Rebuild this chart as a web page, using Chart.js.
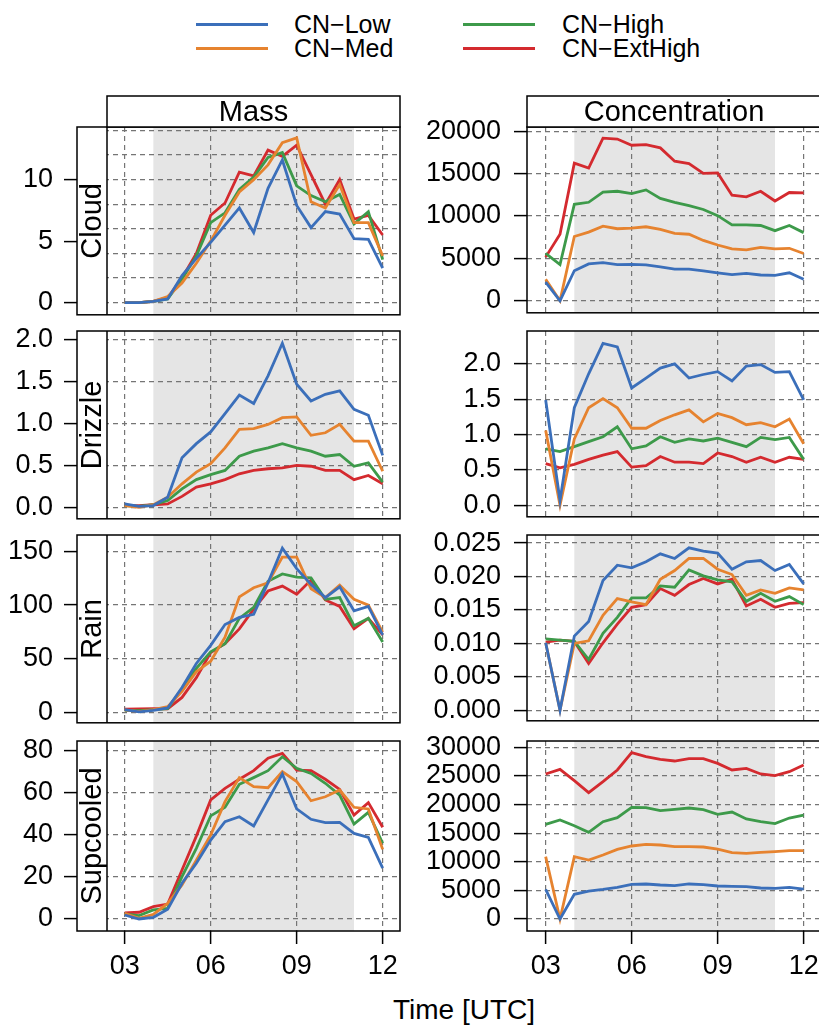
<!DOCTYPE html>
<html>
<head>
<meta charset="utf-8">
<script src="https://cdn.jsdelivr.net/npm/chart.js@4.4.1/dist/chart.umd.min.js"></script>
<style>
  html, body { margin: 0; padding: 0; background: #fff; overflow: hidden; width: 819px; height: 1025px; }
  body { position: relative; font-family: "Liberation Sans", Arial, Helvetica, sans-serif; color: #000; }
  canvas { position: absolute; }
  .leg-line { position: absolute; height: 3px; }
  .leg-text { position: absolute; font-size: 25px; line-height: 30px; white-space: nowrap; }
  #xtitle { position: absolute; left: 364px; width: 200px; top: 993px; text-align: center; font-size: 28px; line-height: 34px; }
</style>
</head>
<body>
<div id="legend"></div>
<div id="xtitle">Time [UTC]</div>
<script>
// time axis, half-hourly output
const hours = [3, 3.5, 4, 4.5, 5, 5.5, 6, 6.5, 7, 7.5, 8, 8.5, 9, 9.5, 10, 10.5, 11, 11.5, 12];
const xTicks = [3, 6, 9, 12];
const shadeFrom = 4, shadeTo = 11;

const seriesNames = ['CN\u2212Low', 'CN\u2212Med', 'CN\u2212High', 'CN\u2212ExtHigh'];
const seriesColors = ['#3B6FBA', '#E6832F', '#3D9A4A', '#D42A2F'];

// Cloud
const cloudMassLow  = [0, 0, 0.1, 0.3, 2.2, 3.6, 4.9, 6.3, 7.7, 5.7, 9.3, 11.6, 7.9, 6.1, 7.4, 7.2, 5.2, 5.15, 2.8];
const cloudMassMed  = [0, 0, 0.1, 0.5, 1.6, 3.2, 5.0, 7.1, 9.0, 10.0, 11.2, 13.0, 13.4, 8.2, 7.7, 9.6, 6.5, 6.5, 3.8];
const cloudMassHigh = [0, 0, 0.1, 0.3, 1.9, 3.8, 6.5, 7.3, 9.2, 10.2, 11.8, 12.2, 9.5, 8.7, 8.2, 8.8, 6.4, 7.4, 3.5];
const cloudMassExt  = [0, 0, 0.1, 0.4, 2.0, 4.0, 7.1, 8.1, 10.6, 10.3, 12.4, 11.9, 12.8, 10.4, 8.0, 10.0, 6.8, 7.1, 5.5];
const cloudConcLow  = [2190, 0, 3540, 4350, 4500, 4270, 4300, 4230, 4000, 3730, 3730, 3540, 3300, 3080, 3230, 3040, 3000, 3300, 2540];
const cloudConcMed  = [2540, 0, 7580, 8100, 8800, 8500, 8580, 8730, 8420, 7960, 7850, 7120, 6580, 6120, 6000, 6300, 6120, 6190, 5580];
const cloudConcHigh = [5580, 4270, 11380, 11620, 12810, 12920, 12650, 13080, 12080, 11620, 11230, 10770, 10040, 8960, 8960, 8880, 8270, 8880, 8040];
const cloudConcExt  = [5150, 7850, 16230, 15650, 19190, 19080, 18350, 18420, 18040, 16460, 16190, 15040, 15080, 12460, 12270, 12920, 11770, 12770, 12730];

// Drizzle
const drizzleMassLow  = [0.04, 0.01, 0.02, 0.12, 0.59, 0.76, 0.90, 1.12, 1.34, 1.24, 1.57, 1.96, 1.47, 1.27, 1.35, 1.39, 1.17, 1.10, 0.62];
const drizzleMassMed  = [0.02, 0.0, 0.03, 0.12, 0.28, 0.42, 0.52, 0.71, 0.93, 0.94, 0.99, 1.07, 1.08, 0.86, 0.89, 0.99, 0.79, 0.79, 0.43];
const drizzleMassHigh = [0.02, 0.01, 0.03, 0.08, 0.22, 0.33, 0.39, 0.44, 0.61, 0.67, 0.71, 0.76, 0.71, 0.67, 0.61, 0.63, 0.49, 0.53, 0.30];
const drizzleMassExt  = [0.02, 0.02, 0.03, 0.04, 0.13, 0.24, 0.28, 0.33, 0.40, 0.44, 0.46, 0.47, 0.50, 0.49, 0.44, 0.44, 0.33, 0.38, 0.28];
const drizzleConcLow  = [1.49, 0.07, 1.38, 1.86, 2.29, 2.24, 1.66, 1.80, 1.94, 2.0, 1.80, 1.85, 1.89, 1.76, 1.97, 1.99, 1.88, 1.89, 1.49];
const drizzleConcMed  = [1.06, 0.0, 0.94, 1.38, 1.51, 1.38, 1.09, 1.09, 1.20, 1.28, 1.35, 1.18, 1.30, 1.24, 1.14, 1.17, 1.11, 1.22, 0.87];
const drizzleConcHigh = [0.80, 0.76, 0.83, 0.90, 0.97, 1.11, 0.80, 0.84, 0.97, 0.89, 0.94, 0.91, 0.95, 0.89, 0.83, 0.96, 0.93, 0.96, 0.65];
const drizzleConcExt  = [0.59, 0.53, 0.58, 0.65, 0.71, 0.76, 0.54, 0.56, 0.69, 0.61, 0.61, 0.59, 0.74, 0.69, 0.61, 0.68, 0.61, 0.68, 0.65];

// Rain
const rainMassLow  = [2.5, 0.3, 1.8, 4, 23, 45.5, 62.4, 81.8, 88.5, 91.3, 120.8, 153.1, 134, 119.3, 107, 117, 94.7, 98.7, 72.2];
const rainMassMed  = [2.2, 0.5, 2.5, 5.2, 19.4, 37.8, 47.6, 70.1, 107.6, 116.2, 120.8, 144.8, 144.8, 115.3, 107, 118.7, 105.4, 99.9, 74.7];
const rainMassHigh = [1.8, 1.5, 2.5, 3.4, 21.8, 40.9, 56.3, 63.9, 87.6, 97.8, 122.3, 129.1, 126, 125.4, 105.4, 107, 80.8, 87.6, 65.5];
const rainMassExt  = [2.8, 3.1, 3.4, 3.1, 13.8, 32.3, 55.6, 63.9, 77.8, 96.2, 113.1, 117.7, 110.1, 123.3, 104.8, 98.7, 77.8, 87.6, 72.2];
const rainConcLow  = [0.0101, 0, 0.0111, 0.0133, 0.0194, 0.0217, 0.0213, 0.0222, 0.0234, 0.0227, 0.0243, 0.0238, 0.0235, 0.0211, 0.0222, 0.0224, 0.0209, 0.0218, 0.0189];
const rainConcMed  = [0.0101, 0, 0.0100, 0.0104, 0.0142, 0.0167, 0.0162, 0.0158, 0.0196, 0.0209, 0.0227, 0.0227, 0.0211, 0.0203, 0.0172, 0.0180, 0.0175, 0.0183, 0.0180];
const rainConcHigh = [0.0107, 0.0105, 0.0103, 0.0076, 0.0115, 0.0139, 0.0168, 0.0168, 0.0186, 0.0184, 0.0210, 0.0201, 0.0195, 0.0192, 0.0163, 0.0175, 0.0163, 0.0170, 0.0158];
const rainConcExt  = [0.0102, 0.0105, 0.0103, 0.0070, 0.0101, 0.0129, 0.0154, 0.0158, 0.0182, 0.0172, 0.0188, 0.0197, 0.0189, 0.0196, 0.0156, 0.0166, 0.0154, 0.0160, 0.0161];

// Supcooled
const supMassLow  = [1.9, 0, 0.8, 4.6, 17, 26.5, 37.5, 46.3, 48.6, 44.2, 56.6, 68.9, 52.3, 47.4, 45.8, 45.9, 40.7, 38.8, 24.2];
const supMassMed  = [2.7, 0.3, 2.2, 7.4, 16.2, 28, 39.9, 55.8, 67.2, 62.9, 62.4, 70, 65.3, 56.2, 58.1, 61.3, 53.1, 52.3, 33.1];
const supMassHigh = [2.4, 1.6, 4.3, 5.1, 20.1, 33.6, 49, 53.1, 64, 67.2, 70.5, 77.1, 71.6, 69.2, 64.5, 58.9, 45.1, 50.7, 36];
const supMassExt  = [2.9, 3.2, 5.9, 7.1, 23.3, 39.4, 56.6, 62.1, 66.4, 70.5, 76.4, 78.7, 70.8, 70.5, 66.4, 61.6, 49.4, 55.3, 43.6];
const supConcLow  = [5180, 0, 4310, 4890, 5180, 5530, 6060, 6120, 5940, 5830, 6120, 6000, 5770, 5710, 5650, 5420, 5360, 5530, 5240];
const supConcMed  = [10890, 0, 10890, 10310, 11180, 12170, 12760, 13050, 12930, 12640, 12640, 12580, 12230, 11590, 11480, 11650, 11770, 11940, 11940];
const supConcHigh = [16540, 17300, 16310, 15150, 17010, 17710, 19510, 19460, 18930, 19160, 19400, 19110, 18290, 18700, 17480, 17010, 16660, 17650, 18170];
const supConcExt  = [25340, 26150, 24170, 22080, 24000, 26040, 29070, 28370, 27900, 27610, 28020, 28020, 27200, 26040, 26330, 25340, 25050, 25750, 26910];

// y tick labels and grid lines
const cloudMassTicks = [0, 5, 10];
const cloudMassGrid = [0, 2, 4, 6, 8, 10, 12, 14];
const cloudConcTicks = [0, 5000, 10000, 15000, 20000];
const drizzleTicks = [0, 0.5, 1, 1.5, 2];
const rainMassTicks = [0, 50, 100, 150];
const rainConcTicks = [0, 0.005, 0.01, 0.015, 0.02, 0.025];
const supMassTicks = [0, 20, 40, 60, 80];
const supConcTicks = [0, 5000, 10000, 15000, 20000, 25000, 30000];

const panels = [
  {row: 0, col: 0, label: 'Cloud', header: 'Mass', data: [cloudMassLow, cloudMassMed, cloudMassHigh, cloudMassExt], yMin: -0.99, yMax: 14.28, ticks: cloudMassTicks, grid: cloudMassGrid, digits: 0},
  {row: 0, col: 1, header: 'Concentration', data: [cloudConcLow, cloudConcMed, cloudConcHigh, cloudConcExt], yMin: -1419, yMax: 20501, ticks: cloudConcTicks, grid: cloudConcTicks, digits: 0},
  {row: 1, col: 0, label: 'Drizzle', data: [drizzleMassLow, drizzleMassMed, drizzleMassHigh, drizzleMassExt], yMin: -0.138, yMax: 2.106, ticks: drizzleTicks, grid: drizzleTicks, digits: 1},
  {row: 1, col: 1, data: [drizzleConcLow, drizzleConcMed, drizzleConcHigh, drizzleConcExt], yMin: -0.162, yMax: 2.465, ticks: drizzleTicks, grid: drizzleTicks, digits: 1},
  {row: 2, col: 0, label: 'Rain', data: [rainMassLow, rainMassMed, rainMassHigh, rainMassExt], yMin: -9.87, yMax: 165.4, ticks: rainMassTicks, grid: rainMassTicks, digits: 0},
  {row: 2, col: 1, data: [rainConcLow, rainConcMed, rainConcHigh, rainConcExt], yMin: -0.00156, yMax: 0.02621, ticks: rainConcTicks, grid: rainConcTicks, digits: 3},
  {row: 3, col: 0, label: 'Supcooled', data: [supMassLow, supMassMed, supMassHigh, supMassExt], yMin: -5.7, yMax: 84.6, ticks: supMassTicks, grid: supMassTicks, digits: 0},
  {row: 3, col: 1, data: [supConcLow, supConcMed, supConcHigh, supConcExt], yMin: -2097, yMax: 31108, ticks: supConcTicks, grid: supConcTicks, digits: 0}
];

// page layout (pixels)
const FONT = '"Liberation Sans", Arial, Helvetica, sans-serif';
const rowTop = [127, 331, 535, 741];
const panelH = 190;
const topPad = 40, botPad = 25;
const cols = [
  {left: 0, width: 410, axisW: 77, padRight: 10, xMin: 1.337, xMax: 12.604},
  {left: 410, width: 420, axisW: 117, padRight: 9, xMin: 2.349, xMax: 12.605}
];
const stripW = 30, headerH = 31;

const panelDecor = {
  id: 'panelDecor',
  beforeDraw(chart) {
    const {ctx, chartArea: a, scales: {x}} = chart;
    const x0 = x.getPixelForValue(shadeFrom), x1 = x.getPixelForValue(shadeTo);
    ctx.save();
    ctx.fillStyle = '#e5e5e5';
    ctx.fillRect(x0, a.top, x1 - x0, a.bottom - a.top);
    ctx.restore();
  },
  afterDraw(chart, args, opts) {
    const {ctx, chartArea: a} = chart;
    ctx.save();
    ctx.strokeStyle = '#000';
    ctx.lineWidth = 1.5;
    ctx.fillStyle = '#000';
    let dataLeft = a.left;
    if (opts.label) {
      ctx.fillStyle = '#fff';
      ctx.fillRect(a.left, a.top, stripW, a.bottom - a.top);
      dataLeft = a.left + stripW;
      ctx.beginPath();
      ctx.moveTo(dataLeft, a.top);
      ctx.lineTo(dataLeft, a.bottom);
      ctx.stroke();
      ctx.fillStyle = '#000';
      ctx.translate(a.left + stripW / 2, (a.top + a.bottom) / 2);
      ctx.rotate(-Math.PI / 2);
      ctx.font = '29px ' + FONT;
      ctx.textAlign = 'center';
      ctx.textBaseline = 'middle';
      ctx.fillText(opts.label, 0, 1);
      ctx.setTransform(1, 0, 0, 1, 0, 0);
    }
    ctx.strokeRect(a.left, a.top, a.right - a.left, a.bottom - a.top);
    if (opts.header) {
      ctx.fillStyle = '#fff';
      ctx.fillRect(dataLeft, a.top - headerH, a.right - dataLeft, headerH);
      ctx.strokeRect(dataLeft, a.top - headerH, a.right - dataLeft, headerH);
      ctx.fillStyle = '#000';
      ctx.font = '29px ' + FONT;
      ctx.textAlign = 'center';
      ctx.textBaseline = 'middle';
      ctx.fillText(opts.header, (dataLeft + a.right) / 2, a.top - headerH / 2 + 1);
    }
    ctx.restore();
  }
};

const gridColor = '#757575';
const clear = 'rgba(0,0,0,0)';

panels.forEach(p => {
  const c = cols[p.col];
  const last = p.row === 3;
  const xAxisH = last ? 55 : 0;
  const canvas = document.createElement('canvas');
  canvas.width = c.width;
  canvas.height = topPad + panelH + xAxisH + botPad;
  canvas.style.left = c.left + 'px';
  canvas.style.top = (rowTop[p.row] - topPad) + 'px';
  document.body.appendChild(canvas);

  const yVals = Array.from(new Set([...p.ticks, ...p.grid])).sort((a, b) => a - b);

  new Chart(canvas, {
    type: 'line',
    data: {
      labels: hours,
      datasets: p.data.map((d, i) => ({
        label: seriesNames[i],
        data: d.map((v, j) => ({x: hours[j], y: v})),
        borderColor: seriesColors[i],
        backgroundColor: seriesColors[i],
        borderWidth: 2.8,
        pointRadius: 0,
        tension: 0,
        fill: false
      }))
    },
    options: {
      responsive: false,
      animation: false,
      events: [],
      layout: {padding: {left: 0, right: c.padRight, top: topPad, bottom: botPad}},
      plugins: {
        legend: {display: false},
        tooltip: {enabled: false},
        panelDecor: {label: p.label, header: p.header}
      },
      scales: {
        x: {
          type: 'linear',
          min: c.xMin,
          max: c.xMax,
          afterBuildTicks: s => { s.ticks = xTicks.map(v => ({value: v})); },
          afterFit: s => { s.height = xAxisH; },
          grid: {
            color: gridColor, lineWidth: 1.2,
            drawTicks: last, tickLength: 13, tickColor: '#000', tickWidth: 1.5
          },
          border: {display: false, dash: [5, 4]},
          ticks: {
            display: last, padding: 6, color: '#000', maxRotation: 0, autoSkip: false,
            font: {family: FONT, size: 27},
            callback: v => String(v).padStart(2, '0')
          }
        },
        y: {
          type: 'linear',
          min: p.yMin,
          max: p.yMax,
          afterBuildTicks: s => { s.ticks = yVals.map(v => ({value: v})); },
          afterFit: s => { s.width = c.axisW; },
          grid: {
            color: ctx => (ctx.tick && p.grid.includes(ctx.tick.value)) ? gridColor : clear,
            lineWidth: 1.2,
            tickLength: 13,
            tickWidth: 1.5,
            tickColor: ctx => (ctx.tick && p.ticks.includes(ctx.tick.value)) ? '#000' : clear
          },
          border: {display: false, dash: [5, 4]},
          ticks: {
            padding: p.col === 0 ? 11 : 13, color: '#000', autoSkip: false,
            font: {family: FONT, size: 27},
            callback: v => p.ticks.includes(v) ? v.toFixed(p.digits) : ''
          }
        }
      }
    },
    plugins: [panelDecor]
  });
});

// legend, two columns like the figure
const legend = document.getElementById('legend');
const legPos = [
  {line: 196, text: 294, y: 24},
  {line: 196, text: 294, y: 48},
  {line: 463, text: 562, y: 24},
  {line: 463, text: 562, y: 48}
];
seriesNames.forEach((name, i) => {
  const pos = legPos[i];
  const ln = document.createElement('div');
  ln.className = 'leg-line';
  ln.style.left = pos.line + 'px';
  ln.style.width = '72px';
  ln.style.top = (pos.y - 1.5) + 'px';
  ln.style.background = seriesColors[i];
  legend.appendChild(ln);
  const tx = document.createElement('div');
  tx.className = 'leg-text';
  tx.style.left = pos.text + 'px';
  tx.style.top = (pos.y - 15) + 'px';
  tx.textContent = name;
  legend.appendChild(tx);
});
</script>
</body>
</html>
